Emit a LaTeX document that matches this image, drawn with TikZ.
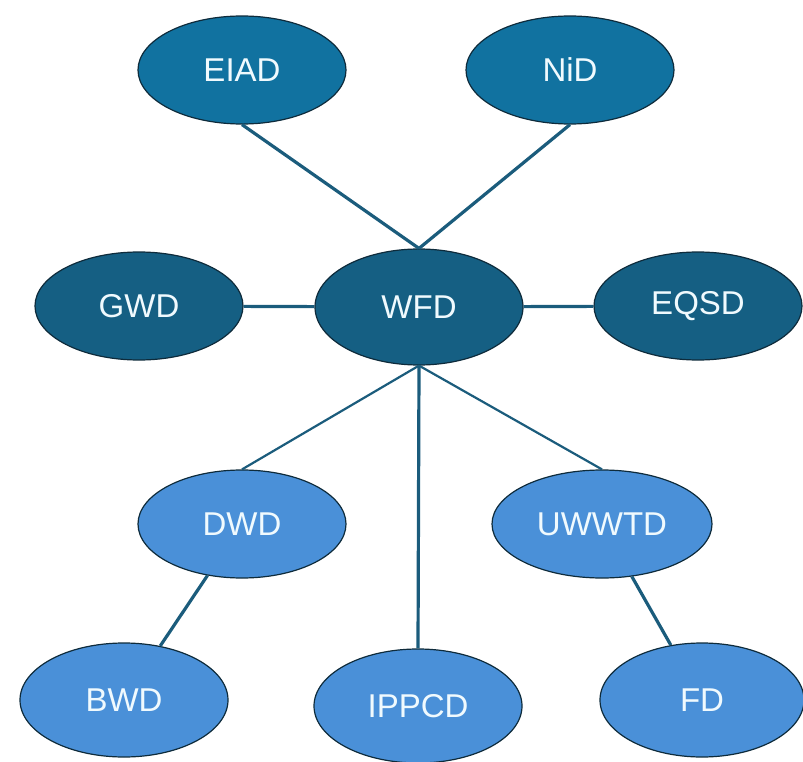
\documentclass[tikz,border=0pt]{standalone}
\usepackage{fontspec}
\setmainfont{Liberation Sans}
\usepackage{tikz}
\usetikzlibrary{shapes,arrows}

\definecolor{topblue}{HTML}{1172A0}
\definecolor{midblue}{HTML}{155F83}
\definecolor{lowblue}{HTML}{4A90D8}
\definecolor{rimblue}{HTML}{0E2B3B}
\definecolor{linkblue}{HTML}{1B5C7C}

\begin{document}
\begin{tikzpicture}[x=1pt,y=-1pt,
	dir/.style={ellipse, draw=rimblue, line width=1.2pt, inner sep=0pt,
		minimum width=208pt, minimum height=108pt, text=white!94!cyan,
		font=\fontsize{33}{38}\selectfont},
	topdir/.style={dir, fill=topblue},
	maindir/.style={dir, fill=midblue},
	subdir/.style={dir, fill=lowblue},
	link/.style={linkblue, line width=3.2pt},
	thinlink/.style={linkblue, line width=2.2pt}]
	\useasboundingbox (0,0) rectangle (803,762);
	
	% top row
	\node[topdir] (EIAD) at (242,70) {EIAD};
	\node[topdir] (NiD) at (570,70) {NiD};
	
	% middle row
	\node[maindir] (GWD) at (139,306) {GWD};
	\node[maindir, minimum height=116pt] (WFD) at (419,307) {WFD};
	\node[maindir] (EQSD) at (698,306) {EQSD};
	
	% lower row
	\node[subdir] (DWD) at (242,524) {DWD};
	\node[subdir, minimum width=220pt] (UWWTD) at (602,524) {UWWTD};
	
	% bottom row
	\node[subdir, minimum height=114pt] (BWD) at (124,700) {BWD};
	\node[subdir, minimum height=114pt] (IPPCD) at (418,706) {IPPCD};
	\node[subdir, minimum width=204pt, minimum height=114pt] (FD) at (702,700) {FD};
	
	% links to the WFD
	\draw[link] (EIAD.south) -- (WFD.north);
	\draw[link] (NiD.south) -- (WFD.north);
	\draw[link] (GWD) -- (WFD);
	\draw[link] (WFD) -- (EQSD);
	\draw[thinlink] (WFD.south) -- (DWD.north);
	\draw[thinlink] (WFD.south) -- (UWWTD.north);
	\draw[link] (WFD.south) -- (IPPCD.north);
	
	% links below
	\draw[link] (DWD) -- (BWD);
	\draw[link] (UWWTD) -- (FD);
\end{tikzpicture}
\end{document}
